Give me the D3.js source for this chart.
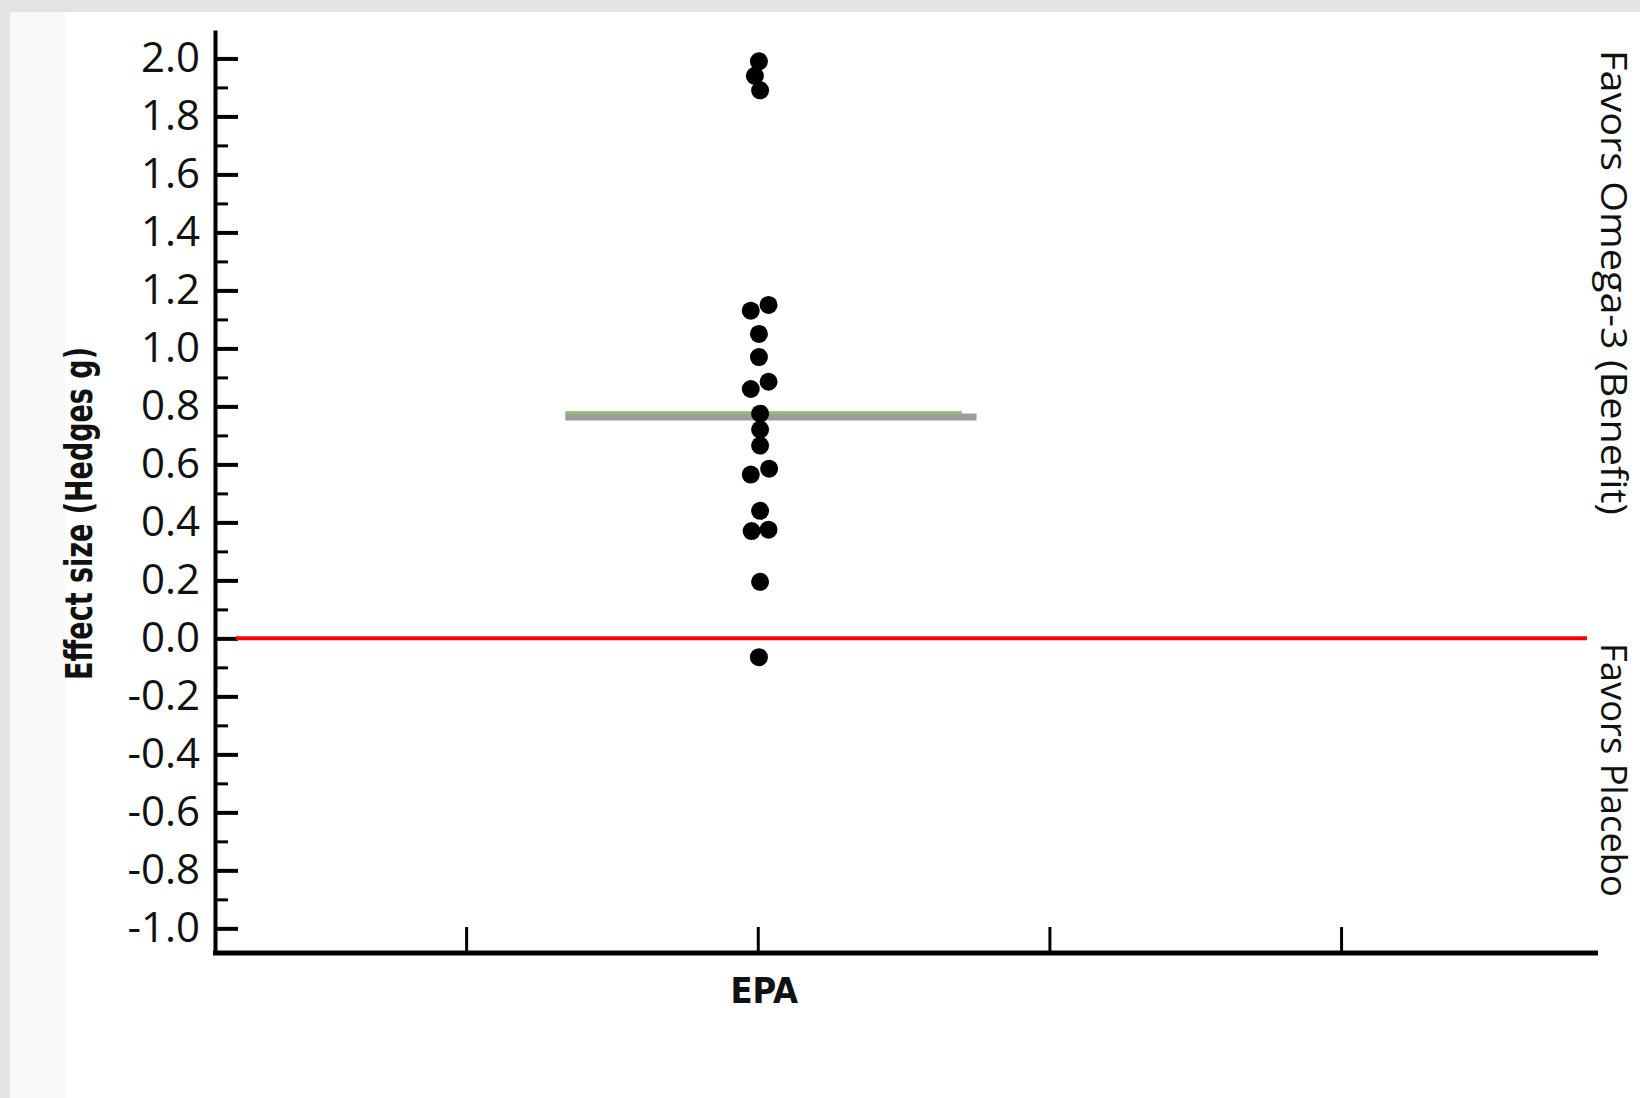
<!DOCTYPE html>
<html>
<head>
<meta charset="utf-8">
<script src="https://cdn.jsdelivr.net/npm/d3@7"></script>
<style>
  body { margin: 0; background: #fff; }
  svg { display: block; }
</style>
</head>
<body>
<svg id="chart"></svg>
<script>
// effect sizes (Hedges g) and their jittered column position
const effectSizes = [1.99, 1.94, 1.89, 1.15, 1.13, 1.05, 0.97, 0.885, 0.86, 0.775,
  0.72, 0.665, 0.585, 0.565, 0.44, 0.375, 0.37, 0.195, -0.065];
const jitterX = [2.004, 1.99, 2.008, 2.037, 1.976, 2.004, 2.004, 2.037, 1.976, 2.008,
  2.008, 2.008, 2.039, 1.976, 2.008, 2.037, 1.979, 2.008, 2.004];
const meanEffect = 0.77;

const xTickValues = [1, 2, 3, 4];
const xTickLabels = ["", "EPA", "", ""];
const yMajorTicks = [-1.0, -0.8, -0.6, -0.4, -0.2, 0.0, 0.2, 0.4, 0.6, 0.8, 1.0, 1.2, 1.4, 1.6, 1.8, 2.0];
const yMinorTicks = [-0.9, -0.7, -0.5, -0.3, -0.1, 0.1, 0.3, 0.5, 0.7, 0.9, 1.1, 1.3, 1.5, 1.7, 1.9];

const yTitle = "Effect size (Hedges g)";
const topNote = "Favors Omega-3 (Benefit)";
const bottomNote = "Favors Placebo";

const width = 1640, height = 1098;

const svg = d3.select("#chart").attr("width", width).attr("height", height);

// paper-ish frame round the slide
svg.append("rect").attr("width", width).attr("height", height).attr("fill", "#e3e3e3");
svg.append("rect").attr("x", 10).attr("y", 12).attr("width", width - 10).attr("height", height - 12).attr("fill", "#fff");
svg.append("rect").attr("x", 10).attr("y", 12).attr("width", 55).attr("height", height - 12).attr("fill", "#f8f8f8");

// scales
const x = d3.scaleLinear().domain([0.139, 4.881]).range([215, 1598]);
const y = d3.scaleLinear().domain([-1.085, 2.098]).range([953, 30]);

// labels use a plain hyphen like the original slide
const fmt = (d) => d.toFixed(1);

// y axis: major ticks with labels, pointing inward
const yAxis = d3.axisLeft(y)
  .tickValues(yMajorTicks)
  .tickSizeInner(-23)
  .tickSizeOuter(0)
  .tickPadding(15)
  .tickFormat(fmt);

const yAxisGroup = svg.append("g")
  .attr("transform", `translate(${x.range()[0]},0)`)
  .call(yAxis);

yAxisGroup.select(".domain").attr("stroke", "#000").attr("stroke-width", 4);
yAxisGroup.selectAll(".tick line").attr("stroke", "#000").attr("stroke-width", 4);
yAxisGroup.selectAll(".tick text")
  .attr("fill", "#111")
  .style("font-family", "'Open Sans', 'Noto Sans', sans-serif")
  .style("font-size", "42px");

// minor ticks
const yMinor = d3.axisLeft(y).tickValues(yMinorTicks).tickSizeInner(-13).tickSizeOuter(0).tickFormat("");
const yMinorGroup = svg.append("g")
  .attr("transform", `translate(${x.range()[0]},0)`)
  .call(yMinor);
yMinorGroup.select(".domain").remove();
yMinorGroup.selectAll(".tick line").attr("stroke", "#000").attr("stroke-width", 3);

// x axis: ticks pointing up, single category label
const xAxis = d3.axisBottom(x)
  .tickValues(xTickValues)
  .tickSizeInner(-26)
  .tickSizeOuter(0)
  .tickPadding(24)
  .tickFormat((d, i) => xTickLabels[i]);

const xAxisGroup = svg.append("g")
  .attr("transform", `translate(0,${y.range()[0]})`)
  .call(xAxis);

xAxisGroup.select(".domain").attr("stroke", "#000").attr("stroke-width", 5)
  .attr("d", `M${x.range()[0] - 2},0H${x.range()[1]}`);
xAxisGroup.selectAll(".tick line").attr("stroke", "#000").attr("stroke-width", 3);
xAxisGroup.selectAll(".tick text")
  .attr("fill", "#111")
  .attr("dx", 6)
  .style("font-family", "'Liberation Sans Narrow', 'DejaVu Sans Condensed', sans-serif")
  .style("font-weight", "bold")
  .style("font-size", "36px");

// zero reference line
svg.append("line")
  .attr("x1", x(0.211)).attr("x2", x(4.843))
  .attr("y1", y(0)).attr("y2", y(0))
  .attr("stroke", "#ff0000")
  .attr("stroke-width", 4);

// pooled mean line
svg.append("line")
  .attr("x1", x(1.34)).attr("x2", x(2.75))
  .attr("y1", y(meanEffect) + 2).attr("y2", y(meanEffect) + 2)
  .attr("stroke", "#9c9c9c")
  .attr("stroke-width", 7);
svg.append("line")
  .attr("x1", x(1.34)).attr("x2", x(2.70))
  .attr("y1", y(meanEffect) - 2.5).attr("y2", y(meanEffect) - 2.5)
  .attr("stroke", "#8db865")
  .attr("stroke-width", 2.5);

// study dots
svg.append("g")
  .selectAll("circle")
  .data(effectSizes)
  .join("circle")
  .attr("cx", (d, i) => x(jitterX[i]))
  .attr("cy", (d) => y(d))
  .attr("r", 9)
  .attr("fill", "#000");

// y axis title
svg.append("text")
  .attr("transform", `translate(92,${(347 + 680) / 2}) rotate(-90)`)
  .attr("text-anchor", "middle")
  .attr("textLength", 333)
  .attr("lengthAdjust", "spacingAndGlyphs")
  .style("font-family", "'Liberation Sans Narrow', 'DejaVu Sans Condensed', sans-serif")
  .style("font-weight", "bold")
  .style("font-size", "37px")
  .attr("fill", "#111")
  .text(yTitle);

// side notes, running downwards along the right edge
svg.append("text")
  .attr("transform", "translate(1601,50) rotate(90)")
  .attr("textLength", 465)
  .attr("lengthAdjust", "spacingAndGlyphs")
  .style("font-family", "'Open Sans', 'Noto Sans', sans-serif")
  .style("font-size", "36px")
  .attr("fill", "#111")
  .text(topNote);

svg.append("text")
  .attr("transform", "translate(1601,643) rotate(90)")
  .attr("textLength", 254)
  .attr("lengthAdjust", "spacingAndGlyphs")
  .style("font-family", "'Open Sans', 'Noto Sans', sans-serif")
  .style("font-size", "36px")
  .attr("fill", "#111")
  .text(bottomNote);
</script>
</body>
</html>
